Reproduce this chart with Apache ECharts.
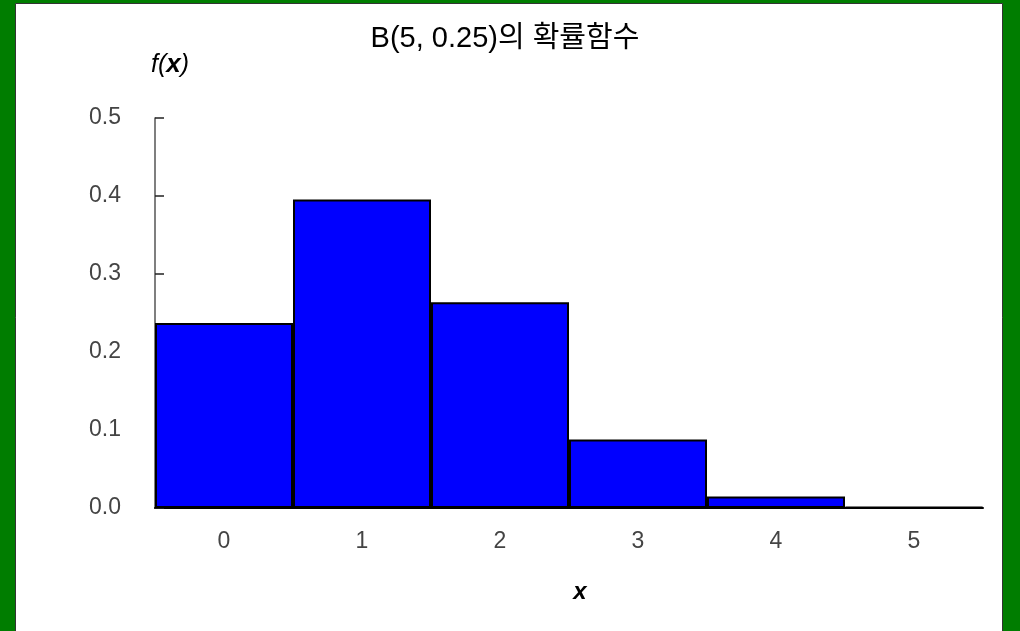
<!DOCTYPE html>
<html>
<head>
<meta charset="utf-8">
<script src="https://cdn.jsdelivr.net/npm/echarts@6/dist/echarts.min.js"></script>
<style>
  html, body { margin: 0; padding: 0; background: #ffffff; }
  #chart { width: 1020px; height: 631px; }
</style>
</head>
<body>
<div id="chart"></div>
<script>
// Binomial distribution B(5, 0.25): outcomes and their probabilities
const outcomes = ['0', '1', '2', '3', '4', '5'];
const probabilities = [0.2373, 0.3955, 0.2637, 0.0879, 0.0146, 0.0010];
const titleText = 'B(5, 0.25)의 확률함수';

const latin = 'Liberation Sans, Noto Sans CJK KR, sans-serif';

const chart = echarts.init(document.getElementById('chart'));
chart.setOption({
  backgroundColor: '#007d00',
  animation: false,
  graphic: [{
    type: 'rect',
    z: -10,
    shape: { x: 15.5, y: 3.5, width: 987, height: 630 },
    style: { fill: '#ffffff', stroke: '#333333', lineWidth: 1 }
  }],
  title: {
    text: titleText,
    left: 500,
    top: 19,
    textAlign: 'center',
    textStyle: {
      fontFamily: latin,
      fontSize: 29,
      fontWeight: 'normal',
      color: '#000000'
    }
  },
  grid: { left: 155, top: 118, width: 828, height: 390 },
  xAxis: {
    type: 'category',
    data: outcomes,
    name: '{x|x}',
    nameLocation: 'middle',
    nameGap: 72,
    nameTextStyle: {
      padding: [0, 0, 0, 22],
      rich: {
        x: { fontFamily: latin, fontSize: 24, fontStyle: 'italic', fontWeight: 'bold', color: '#000' }
      }
    },
    axisLine: { lineStyle: { color: '#000000', width: 2 } },
    axisTick: { inside: true, length: 7, lineStyle: { color: '#222222', width: 1.5 } },
    axisLabel: { margin: 22, fontFamily: latin, fontSize: 23, color: '#444444' }
  },
  yAxis: {
    type: 'value',
    min: 0,
    max: 0.5,
    interval: 0.1,
    name: '{f|f}{p|(}{x|x}{p|)}',
    nameLocation: 'end',
    nameGap: 40,
    nameTextStyle: {
      padding: [0, 0, 0, 30],
      rich: {
        f: { fontFamily: latin, fontSize: 25, fontStyle: 'italic', color: '#000' },
        p: { fontFamily: latin, fontSize: 25, fontStyle: 'italic', color: '#000' },
        x: { fontFamily: latin, fontSize: 26, fontStyle: 'italic', fontWeight: 'bold', color: '#000' }
      }
    },
    splitLine: { show: false },
    axisLine: { show: true, lineStyle: { color: '#555555', width: 1.5 } },
    axisTick: { show: true, inside: true, length: 9, lineStyle: { color: '#222222', width: 1.5 } },
    axisLabel: {
      margin: 34,
      fontFamily: latin,
      fontSize: 23,
      color: '#444444',
      formatter: v => v.toFixed(1)
    }
  },
  series: [{
    type: 'bar',
    data: probabilities,
    barCategoryGap: '0%',
    itemStyle: { color: '#0000ff', borderColor: '#000000', borderWidth: 2 }
  }]
});
</script>
</body>
</html>
